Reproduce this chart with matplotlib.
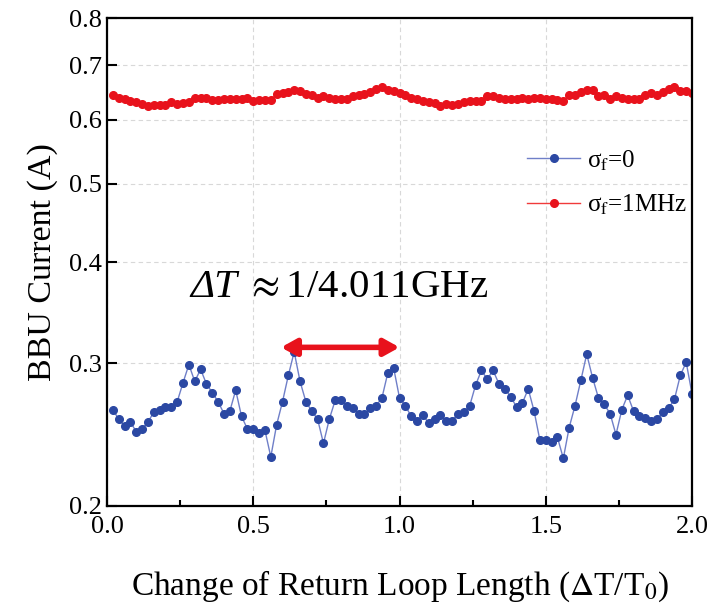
import numpy as np
import matplotlib
matplotlib.use("Agg")
import matplotlib.pyplot as plt
from matplotlib.ticker import FixedLocator, MultipleLocator, NullLocator, FormatStrFormatter

plt.rcParams['font.family'] = ['Liberation Serif', 'DejaVu Serif']
plt.rcParams['mathtext.fontset'] = 'stix'

# change of return loop length, dT/T0
x = np.arange(1, 101) * 0.02

# BBU current (A), sigma_f = 0
bbu_sigma0 = [
    0.263, 0.256, 0.251, 0.254, 0.247, 0.249, 0.254, 0.261, 0.263, 0.265,
    0.265, 0.269, 0.284, 0.299, 0.285, 0.295, 0.283, 0.276, 0.269, 0.260,
    0.262, 0.278, 0.258, 0.249, 0.249, 0.246, 0.248, 0.230, 0.252, 0.269,
    0.290, 0.310, 0.285, 0.269, 0.262, 0.256, 0.239, 0.256, 0.270, 0.270,
    0.266, 0.264, 0.260, 0.260, 0.264, 0.266, 0.272, 0.292, 0.296, 0.272,
    0.266, 0.258, 0.255, 0.259, 0.253, 0.256, 0.259, 0.255, 0.255, 0.260,
    0.261, 0.266, 0.282, 0.294, 0.287, 0.294, 0.283, 0.279, 0.273, 0.265,
    0.268, 0.279, 0.262, 0.241, 0.241, 0.240, 0.243, 0.229, 0.250, 0.266,
    0.286, 0.308, 0.288, 0.272, 0.267, 0.260, 0.245, 0.263, 0.274, 0.262,
    0.258, 0.257, 0.255, 0.256, 0.261, 0.264, 0.271, 0.290, 0.301, 0.275,
]

# BBU current (A), sigma_f = 1 MHz
bbu_sigma1 = [
    0.643, 0.639, 0.637, 0.633, 0.631, 0.627, 0.624, 0.626, 0.626, 0.626,
    0.630, 0.627, 0.629, 0.631, 0.639, 0.639, 0.639, 0.635, 0.635, 0.637,
    0.637, 0.636, 0.636, 0.639, 0.632, 0.635, 0.635, 0.635, 0.645, 0.647,
    0.649, 0.653, 0.651, 0.645, 0.644, 0.638, 0.642, 0.638, 0.636, 0.636,
    0.636, 0.641, 0.644, 0.645, 0.649, 0.654, 0.658, 0.652, 0.651, 0.647,
    0.644, 0.639, 0.636, 0.633, 0.631, 0.629, 0.624, 0.627, 0.626, 0.627,
    0.631, 0.632, 0.632, 0.633, 0.642, 0.641, 0.638, 0.637, 0.637, 0.637,
    0.638, 0.637, 0.638, 0.639, 0.637, 0.637, 0.635, 0.633, 0.644, 0.643,
    0.649, 0.652, 0.652, 0.641, 0.644, 0.636, 0.641, 0.638, 0.637, 0.636,
    0.637, 0.643, 0.648, 0.643, 0.649, 0.654, 0.658, 0.651, 0.651, 0.647,
]

y_ticks = [0.2, 0.3, 0.4, 0.5, 0.6, 0.7, 0.8]

fig = plt.figure(figsize=(7.19, 6.08), dpi=100)
ax = fig.add_axes([0.1488, 0.1678, 0.8137, 0.8018])

ax.plot(x, bbu_sigma0, color='#6f7fc8', lw=1.0, marker='o', ms=5.5,
        mfc='#2b48a3', mec='#2b48a3', label=r'σ$_{\rm f}$=0')
ax.plot(x, bbu_sigma1, color='#f03a3a', lw=1.0, marker='o', ms=5.5,
        mfc='#e8121c', mec='#e8121c', label=r'σ$_{\rm f}$=1MHz')

ax.set_yscale('log')
ax.set_xlim(0, 2.0)
ax.set_ylim(0.2, 0.8)
ax.yaxis.set_major_locator(FixedLocator(y_ticks))
ax.yaxis.set_minor_locator(NullLocator())
ax.yaxis.set_major_formatter(FormatStrFormatter('%.1f'))
ax.xaxis.set_major_locator(MultipleLocator(0.5))
ax.xaxis.set_minor_locator(MultipleLocator(0.25))
ax.xaxis.set_major_formatter(FormatStrFormatter('%.1f'))

ax.grid(True, which='major', ls=(0, (4, 3)), color='#d8d8d8', lw=0.8)
ax.tick_params(which='both', direction='in', labelsize=19, width=1.5)
ax.tick_params(which='major', length=7)
ax.tick_params(which='minor', length=4)
ax.tick_params(axis='x', pad=7)
for s in ax.spines.values():
    s.set_linewidth(1.6)

ax.set_xlabel(r'Change of Return Loop Length ($\Delta$T/T$_0$)', fontsize=24, labelpad=22)
ax.set_ylabel('BBU Current (A)', fontsize=24.5, labelpad=8)

ax.annotate('', xy=(0.595, 0.314), xytext=(1.0, 0.314),
            arrowprops=dict(arrowstyle='<|-|>,head_length=0.9,head_width=0.5',
                            color='#e8121c', lw=4, shrinkA=0, shrinkB=0))
ax.text(0.285, 0.362, 'ΔT', fontsize=29.5, style='italic', va='baseline')
ax.text(0.475, 0.362, r'$\approx$1/4.011GHz', fontsize=29.5, va='baseline')

ax.legend(loc='upper left', bbox_to_anchor=(0.68, 0.78), frameon=False,
          fontsize=18, handlelength=2.1, labelspacing=0.8, handletextpad=0.3)

fig.savefig('out.png', dpi=100)
